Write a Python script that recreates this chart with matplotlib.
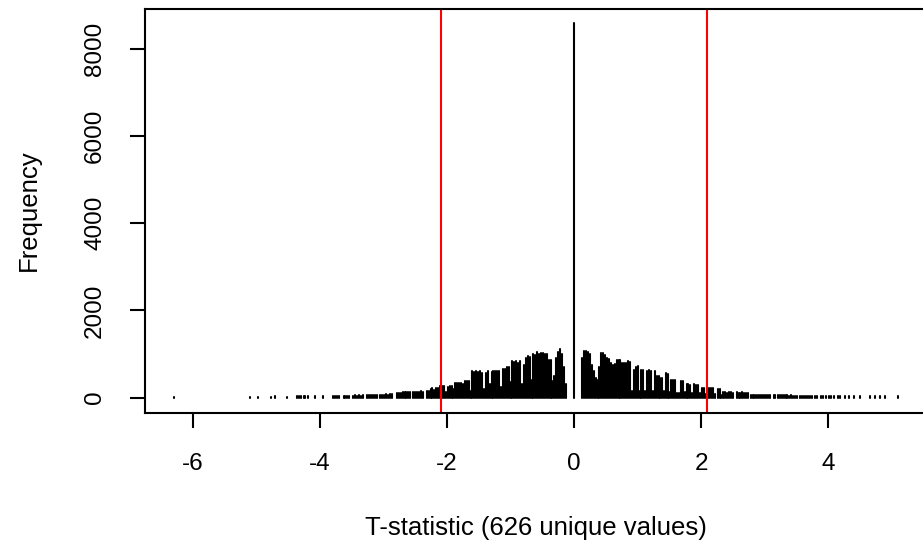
import numpy as np
import matplotlib
matplotlib.use('Agg')
import matplotlib.pyplot as plt

plt.rcParams['font.family'] = 'Liberation Sans'
plt.rcParams['axes.unicode_minus'] = False

# T-statistic values (x) and their frequencies
left_tail_t = [-6.30, -5.10, -4.97, -4.77, -4.71, -4.52, -4.36, -4.33, -4.30, -4.26,
               -4.23, -4.19, -4.08, -3.95, -3.79, -3.76, -3.73, -3.70]
left_tail_n = [20, 20, 20, 20, 25, 20, 25, 25, 30, 25,
               25, 25, 25, 30, 30, 35, 35, 40]

left_t = [-3.63, -3.60, -3.57, -3.54,
          -3.48, -3.45, -3.42, -3.39, -3.36, -3.33,
          -3.26, -3.23, -3.20, -3.17, -3.14, -3.11,
          -3.05, -3.02, -2.99, -2.96, -2.93, -2.90, -2.87,
          -2.79, -2.76, -2.73, -2.70, -2.67, -2.64, -2.61, -2.58,
          -2.53, -2.50, -2.47, -2.44, -2.41, -2.38,
          -2.32, -2.29, -2.26, -2.23, -2.20, -2.17, -2.14, -2.11, -2.08, -2.05,
          -2.02, -1.99, -1.96, -1.93, -1.90, -1.87, -1.84, -1.81, -1.78, -1.75, -1.72, -1.69, -1.66,
          -1.63, -1.60, -1.57, -1.54, -1.51, -1.48, -1.45,
          -1.42, -1.39, -1.36, -1.33, -1.30, -1.27, -1.24, -1.21, -1.18,
          -1.15, -1.12, -1.09, -1.06, -1.03, -1.00, -0.97, -0.94, -0.91, -0.88, -0.85,
          -0.82, -0.79, -0.76, -0.73, -0.70, -0.67, -0.64, -0.61, -0.58, -0.55, -0.52,
          -0.49, -0.46, -0.43, -0.40, -0.37, -0.34, -0.31, -0.28, -0.25, -0.22, -0.19,
          -0.16, -0.13]
left_n = [40, 45, 40, 45,
          45, 50, 45, 50, 45, 50,
          55, 55, 60, 55, 60, 55,
          70, 65, 70, 75, 70, 80, 75,
          95, 100, 110, 130, 125, 130, 120, 130,
          125, 130, 135, 130, 140, 130,
          160, 150, 190, 210, 180, 210, 230, 265, 260, 265,
          120, 250, 270, 265, 200, 330, 345, 340, 345, 300, 380, 380, 370,
          150, 600, 590, 600, 580, 600, 560,
          200, 560, 600, 300, 580, 600, 610, 600, 600,
          250, 660, 660, 700, 700, 350, 830, 820, 830, 800, 850,
          300, 750, 900, 950, 920, 400, 1000, 980, 1050, 1000, 1025,
          1030, 1010, 1000, 870, 860, 375, 500, 900, 1050, 1115, 1000,
          700, 300]

center_t = [0.0]
center_n = [8584]

right_t = [0.13, 0.16, 0.19, 0.22, 0.25, 0.28, 0.31, 0.34, 0.37, 0.40,
           0.43, 0.46, 0.49, 0.52, 0.55, 0.58, 0.61, 0.64, 0.67, 0.70,
           0.73, 0.76, 0.79, 0.82, 0.85, 0.88, 0.91, 0.94, 0.97, 1.00,
           1.03, 1.06, 1.09, 1.12, 1.15, 1.18, 1.21, 1.24, 1.27, 1.30,
           1.33, 1.36, 1.39, 1.42, 1.45, 1.48, 1.50, 1.53, 1.56, 1.59,
           1.62, 1.65, 1.68, 1.71, 1.74, 1.77, 1.80, 1.83, 1.86, 1.89,
           1.92, 1.95, 1.98, 2.01, 2.04, 2.07, 2.10, 2.13, 2.16, 2.19,
           2.22, 2.26, 2.29, 2.32, 2.35, 2.38, 2.41, 2.44, 2.47, 2.50,
           2.56, 2.59, 2.62, 2.65, 2.68, 2.71, 2.74,
           2.78, 2.81, 2.84, 2.87, 2.90, 2.93, 2.96, 2.99, 3.02, 3.05, 3.08,
           3.14, 3.17,
           3.21, 3.24, 3.27, 3.30, 3.33, 3.36, 3.39, 3.42, 3.45, 3.48, 3.51,
           3.56, 3.59, 3.62, 3.65, 3.68, 3.71, 3.74]
right_n = [900, 1060, 1060, 1050, 1000, 755, 600, 455, 400, 700,
           1025, 1020, 980, 910, 880, 800, 755, 760, 870, 870,
           860, 800, 795, 790, 830, 820, 150, 640, 700, 715,
           150, 640, 630, 150, 600, 640, 620, 150, 600, 500,
           490, 450, 450, 150, 565, 550, 120, 410, 400, 410,
           100, 100, 375, 370, 120, 300, 300, 290, 100, 300,
           290, 280, 100, 220, 210, 90, 230, 220, 220, 210,
           80, 200, 190, 70, 120, 125, 115, 120, 125, 110,
           120, 115, 110, 120, 105, 110, 100,
           70, 65, 70, 70, 65, 70, 60, 70, 65, 60, 65,
           50, 50,
           60, 55, 60, 50, 55, 50, 45, 50, 45, 40, 45,
           40, 45, 40, 40, 35, 40, 35]

right_tail_t = [3.79, 3.83, 3.88, 3.92, 3.96, 4.02, 4.05, 4.10, 4.16, 4.19,
                4.26, 4.33, 4.40, 4.50, 4.66, 4.74, 4.82, 4.90, 5.10]
right_tail_n = [30, 30, 30, 35, 30, 30, 30, 25, 30, 35,
                30, 25, 25, 30, 25, 25, 25, 25, 30]

crit = 2.1

t = np.array(left_tail_t + left_t + center_t + right_t + right_tail_t)
n = np.array(left_tail_n + left_n + center_n + right_n + right_tail_n)

fig = plt.figure(figsize=(9.23, 5.43), dpi=100)
ax = fig.add_axes([0.1571, 0.2403, 0.8472, 0.7440])

ax.vlines(t, 0, n, colors='black', linewidth=1.5, capstyle='round')
ax.axvline(-crit, color='red', linewidth=1.5)
ax.axvline(crit, color='red', linewidth=1.5)

# R-style 4% padding around the data range
xr = t.max() - t.min()
ax.set_xlim(t.min() - 0.04 * xr, t.max() + 0.04 * xr)
ax.set_ylim(-0.04 * n.max(), n.max() * 1.04)

ax.set_xticks([-6, -4, -2, 0, 2, 4])
ax.set_yticks([0, 2000, 4000, 6000, 8000])
ax.tick_params(axis='both', direction='out', length=11, width=1.5,
               labelsize=17.5, color='black')
ax.tick_params(axis='x', pad=18)
ax.tick_params(axis='y', pad=17, labelrotation=90)
for lab in ax.get_yticklabels():
    lab.set_va('center')

for sp in ax.spines.values():
    sp.set_linewidth(1.5)

ax.set_xlabel('T-statistic (626 unique values)', fontsize=18.5, va='center')
ax.xaxis.set_label_coords(0.5, -0.286)
ax.set_ylabel('Frequency', fontsize=18.5, va='center')
ax.yaxis.set_label_coords(-0.148, 0.5)

fig.savefig('out.png', dpi=100)
